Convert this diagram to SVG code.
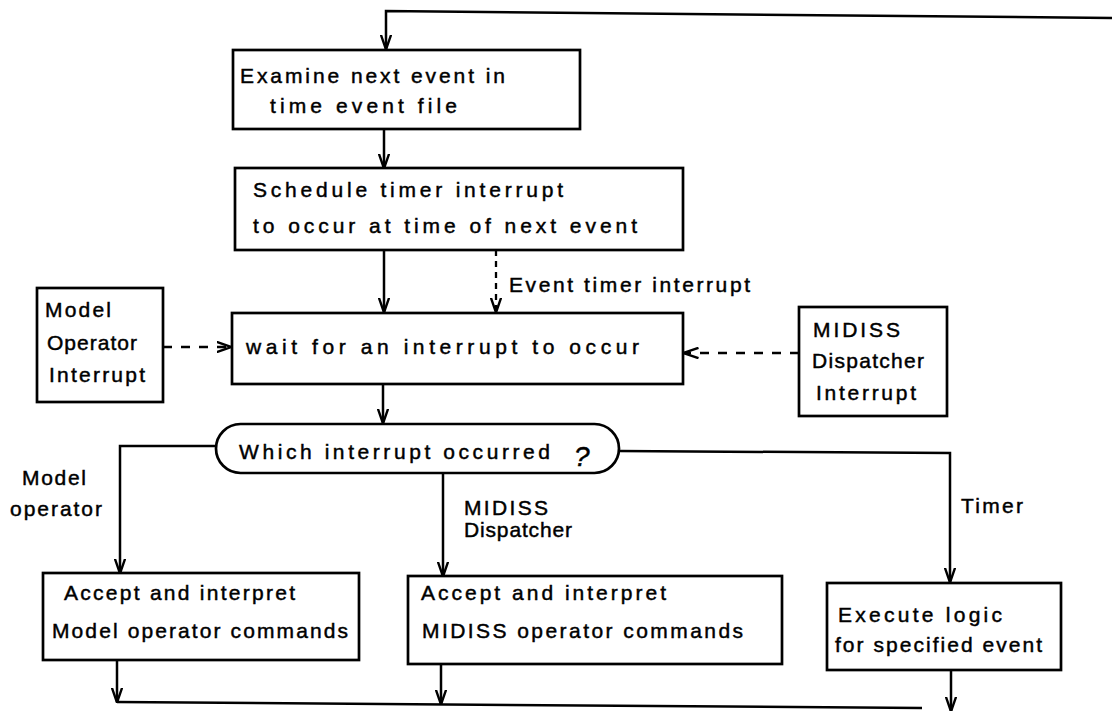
<svg xmlns="http://www.w3.org/2000/svg" width="1112" height="711" viewBox="0 0 1112 711">
<style>
.box{fill:#fff;stroke:#000;stroke-width:2.7}
.ln{fill:none;stroke:#000;stroke-width:2.5}
.dash{fill:none;stroke:#000;stroke-width:2.3;stroke-dasharray:9 9}
.dv{fill:none;stroke:#000;stroke-width:2.3;stroke-dasharray:6 5}
text{font-family:"Liberation Sans",Arial,sans-serif;font-size:21px;fill:#000;stroke:#000;stroke-width:0.45}
</style>
<defs>
<marker id="ah" markerUnits="userSpaceOnUse" viewBox="0 0 15 12" refX="14.5" refY="6" markerWidth="15" markerHeight="12" orient="auto">
<path d="M0,0.8 L15,6 L0,11.2" fill="none" stroke="#000" stroke-width="2.4"/>
</marker>
</defs>
<rect width="1112" height="711" fill="#fff"/>
<g id="connectors">
<path class="ln" d="M1112,18 L386,11 L386,49" marker-end="url(#ah)"/>
<path class="ln" d="M384,129 L384,168" marker-end="url(#ah)"/>
<path class="ln" d="M384,250 L384,312" marker-end="url(#ah)"/>
<path class="dv" d="M496,250 L496,312" marker-end="url(#ah)"/>
<path class="dash" d="M163,347 L231,347" marker-end="url(#ah)"/>
<path class="dash" d="M799,353 L684,353" marker-end="url(#ah)"/>
<path class="ln" d="M383,384 L383,423" marker-end="url(#ah)"/>
<path class="ln" d="M216,446 L120,446 L120,573" marker-end="url(#ah)"/>
<path class="ln" d="M443,473 L443,576" marker-end="url(#ah)"/>
<path class="ln" d="M619,451 L950,453 L950,582" marker-end="url(#ah)"/>
<path class="ln" d="M117,661 L117,702" marker-end="url(#ah)"/>
<path class="ln" d="M441,664 L441,704" marker-end="url(#ah)"/>
<path class="ln" d="M951,670 L951,711" marker-end="url(#ah)"/>
<path class="ln" d="M117,702 L922,708"/>
</g>
<g id="examine">
<rect class="box" x="233" y="50" width="347" height="79"/>
<text x="240" y="83" textLength="265" lengthAdjust="spacing">Examine next event in</text>
<text x="270" y="113" textLength="187" lengthAdjust="spacing">time event file</text>
</g>
<g id="schedule">
<rect class="box" x="235" y="168" width="448" height="82"/>
<text x="253" y="197" textLength="310" lengthAdjust="spacing">Schedule timer interrupt</text>
<text x="253" y="233" textLength="384" lengthAdjust="spacing">to occur at time of next event</text>
</g>
<g id="event-label">
<text x="509" y="292" textLength="241" lengthAdjust="spacing">Event timer interrupt</text>
</g>
<g id="model-interrupt">
<rect class="box" x="37" y="288" width="126" height="114"/>
<text x="45" y="317" textLength="66" lengthAdjust="spacing">Model</text>
<text x="47" y="350" textLength="90" lengthAdjust="spacing">Operator</text>
<text x="49" y="382" textLength="96" lengthAdjust="spacing">Interrupt</text>
</g>
<g id="wait">
<rect class="box" x="232" y="313" width="451" height="71"/>
<text x="246" y="354" textLength="393" lengthAdjust="spacing">wait for an interrupt to occur</text>
</g>
<g id="midiss-interrupt">
<rect class="box" x="799" y="307" width="148" height="109"/>
<text x="813" y="337" textLength="87" lengthAdjust="spacing">MIDISS</text>
<text x="812" y="368" textLength="112" lengthAdjust="spacing">Dispatcher</text>
<text x="816" y="400" textLength="100" lengthAdjust="spacing">Interrupt</text>
</g>
<g id="which">
<rect class="box" x="216" y="424" width="403" height="49" rx="24.5"/>
<text x="239" y="459" textLength="311" lengthAdjust="spacing">Which interrupt occurred</text>
<text x="574" y="466" style="font-size:28px;font-style:italic">?</text>
</g>
<g id="branch-labels">
<text x="22" y="485" textLength="64" lengthAdjust="spacing">Model</text>
<text x="10" y="516" textLength="92" lengthAdjust="spacing">operator</text>
<text x="464" y="515" textLength="84" lengthAdjust="spacing">MIDISS</text>
<text x="464" y="537" textLength="108" lengthAdjust="spacing">Dispatcher</text>
<text x="961" y="513" textLength="62" lengthAdjust="spacing">Timer</text>
</g>
<g id="model-commands">
<rect class="box" x="43" y="573" width="316" height="87"/>
<text x="64" y="600" textLength="231" lengthAdjust="spacing">Accept and interpret</text>
<text x="52" y="638" textLength="296" lengthAdjust="spacing">Model operator commands</text>
</g>
<g id="midiss-commands">
<rect class="box" x="408" y="576" width="374" height="88"/>
<text x="421" y="600" textLength="245" lengthAdjust="spacing">Accept and interpret</text>
<text x="422" y="638" textLength="321" lengthAdjust="spacing">MIDISS operator commands</text>
</g>
<g id="execute">
<rect class="box" x="827" y="583" width="234" height="87"/>
<text x="838" y="622" textLength="164" lengthAdjust="spacing">Execute logic</text>
<text x="835" y="652" textLength="207" lengthAdjust="spacing">for specified event</text>
</g>
</svg>
